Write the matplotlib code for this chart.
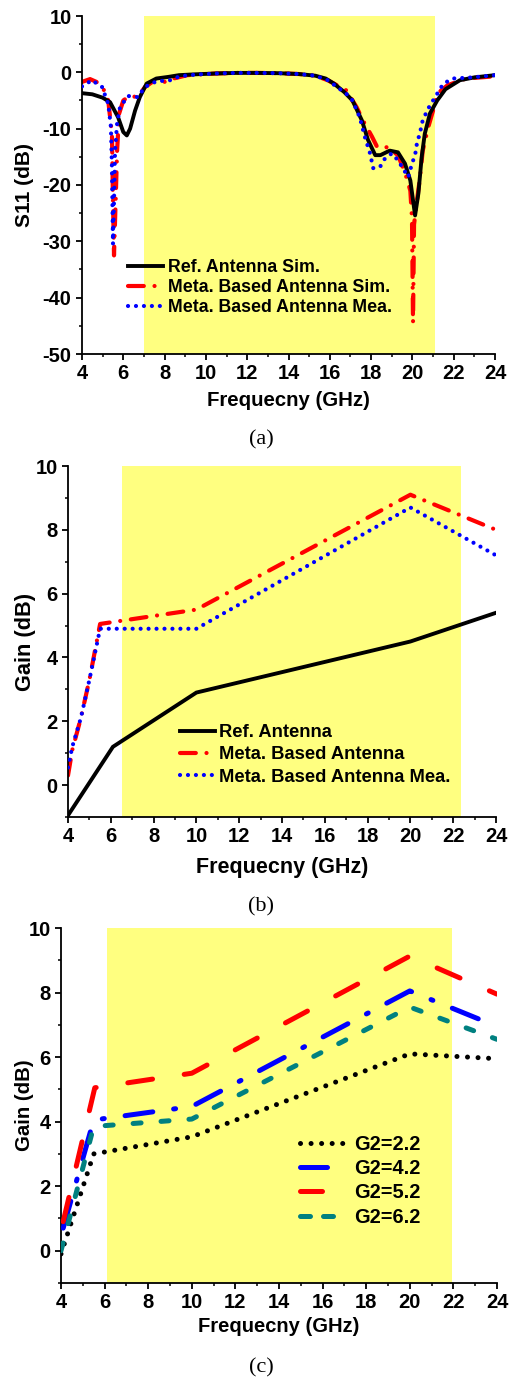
import matplotlib
matplotlib.use('Agg')
import matplotlib.pyplot as plt
import matplotlib.transforms as mtransforms
from matplotlib.ticker import MultipleLocator

plt.rcParams['font.family'] = ['Liberation Sans', 'DejaVu Sans']
plt.rcParams['font.weight'] = 'bold'
plt.rcParams['axes.unicode_minus'] = False

#%% data
# (a) S11 vs frequency
ref_sim_f = [4.0, 4.5, 5.0, 5.36, 5.75, 6.0, 6.17, 6.33, 6.57, 6.8, 7.13, 7.6, 8.2, 8.7,
             9.5, 10.5, 11.5, 12.5, 13.5, 14.5, 15.3, 15.8, 16.2, 16.7, 17.1, 17.55,
             17.85, 18.2, 18.45, 18.9, 19.3, 19.64, 19.9, 20.13, 20.29, 20.45, 20.6,
             20.85, 21.2, 21.6, 22.3, 23.0, 24.0]
ref_sim_s = [-3.7, -3.9, -4.5, -5.3, -8.0, -10.6, -11.2, -10.0, -6.8, -4.4, -2.0, -1.1, -0.8, -0.5,
             -0.35, -0.2, -0.1, -0.1, -0.15, -0.3, -0.6, -1.1, -2.0, -3.5, -5.0, -8.5,
             -12.0, -14.7, -14.7, -13.9, -14.2, -16.2, -19.2, -25.4, -21.5, -15.0, -10.9,
             -7.3, -5.0, -3.0, -1.4, -0.9, -0.5]

meta_sim_f = [4.0, 4.39, 4.7, 5.03, 5.27, 5.45, 5.5, 5.55, 5.63, 5.7, 5.8, 6.0, 6.3, 6.7,
              7.05, 7.45, 8.1, 8.43, 9.1, 10.5, 11.5, 12.5, 13.5, 14.5, 15.3, 15.9, 16.8,
              17.3, 17.6, 18.04, 18.3, 18.8, 19.3, 19.64, 19.9, 19.98, 20.03, 20.08, 20.22,
              20.37, 20.5, 20.77, 21.0, 21.2, 21.7, 22.6, 24.0]
meta_sim_s = [-1.7, -1.2, -1.7, -2.9, -5.0, -10.9, -22.8, -32.5, -22.8, -13.9, -7.3, -5.0, -4.2, -4.4,
              -2.6, -1.6, -1.7, -1.1, -0.5, -0.2, -0.1, -0.1, -0.15, -0.3, -0.6, -1.4, -3.2,
              -6.2, -8.5, -11.4, -13.3, -13.3, -14.7, -17.8, -21.0, -26.0, -44.5, -27.0, -22.8,
              -18.6, -13.9, -9.7, -6.8, -3.8, -2.3, -1.1, -0.7]

meta_mea_f = [4.0, 4.48, 4.97, 5.27, 5.4, 5.45, 5.5, 5.55, 5.6, 5.7, 5.84, 6.23, 6.7, 7.05,
              7.6, 8.26, 8.74, 9.5, 10.5, 11.5, 12.5, 13.5, 14.5, 15.3, 15.9, 16.8, 17.1,
              17.45, 17.7, 17.95, 18.1, 18.43, 18.67, 19.0, 19.3, 19.55, 19.8, 19.98, 20.13,
              20.22, 20.37, 20.5, 20.77, 21.0, 21.5, 21.97, 22.9, 24.0]
meta_mea_s = [-2.5, -1.4, -2.6, -5.6, -9.7, -16.8, -30.5, -22.8, -13.9, -9.1, -6.2, -4.2, -4.4, -2.6,
              -1.6, -1.4, -0.7, -0.4, -0.2, -0.1, -0.1, -0.15, -0.3, -0.6, -1.4, -3.8, -5.0,
              -8.0, -11.5, -14.4, -17.0, -16.8, -15.3, -14.4, -15.6, -17.1, -18.6, -16.2, -14.7,
              -12.6, -10.7, -8.5, -6.4, -5.0, -2.0, -1.1, -0.9, -0.5]

# (b) gain vs frequency
gain_ref_f = [4.0, 6.1, 10.0, 20.0, 24.0]
gain_ref = [-0.95, 1.2, 2.9, 4.5, 5.4]
gain_meta_f = [4.0, 4.2, 4.6, 5.0, 5.5, 10.0, 20.0, 24.0]
gain_meta_sim = [0.3, 1.1, 2.1, 3.3, 5.05, 5.5, 9.1, 8.0]
gain_meta_mea = [0.55, 1.2, 2.1, 3.3, 4.9, 4.9, 8.7, 7.2]

# (c) gain for different G2
g2_f = [4.0, 5.5, 10.0, 20.0, 24.0]
g2_labels = ['G2=2.2', 'G2=4.2', 'G2=5.2', 'G2=6.2']
g2_22 = [-0.1, 3.0, 3.53, 6.1, 5.95]
g2_42_f = [4.1, 5.5, 10.0, 20.0, 24.0]
g2_42 = [0.7, 4.05, 4.47, 8.05, 6.95]
g2_52_f = [4.1, 5.55, 10.0, 20.0, 24.0]
g2_52 = [0.9, 5.05, 5.5, 9.13, 7.95]
g2_62 = [0.0, 3.85, 4.08, 7.55, 6.55]

# shaded bands (GHz)
band_a = (7.0, 21.1)
band_b = (6.5, 22.35)
band_c = (6.1, 21.95)

#%% figure
W, H = 519, 1380
fig = plt.figure(figsize=(W / 100, H / 100), dpi=100)

YELLOW = '#ffff80'
RED = '#ff0000'
BLUE = '#0000ff'
TEAL = '#008080'


def px_axes(left, top, right, bottom):
    return fig.add_axes([left / W, 1 - bottom / H, (right - left) / W, (bottom - top) / H])


def style_axes(ax, ylim, ymaj, ymin, ylabel, xlab_y, tick_fs, xlab_fs, ylab_fs):
    ax.set_xlim(4, 24)
    ax.set_ylim(*ylim)
    ax.xaxis.set_major_locator(MultipleLocator(2))
    ax.xaxis.set_minor_locator(MultipleLocator(1))
    ax.yaxis.set_major_locator(MultipleLocator(ymaj))
    ax.yaxis.set_minor_locator(MultipleLocator(ymin))
    for s in ['top', 'right']:
        ax.spines[s].set_visible(False)
    for s in ['left', 'bottom']:
        ax.spines[s].set_linewidth(1.3)
    ax.tick_params(which='major', direction='out', length=4.5, width=1.3, pad=3, labelsize=tick_fs)
    ax.tick_params(which='minor', direction='out', length=2.5, width=1.1)
    ax.set_xlabel('Frequecny (GHz)', fontsize=xlab_fs, fontweight='bold', va='center')
    ax.xaxis.set_label_coords(0.5, 1 - xlab_y / H,
                              transform=mtransforms.blended_transform_factory(ax.transAxes, fig.transFigure))
    ax.set_ylabel(ylabel, fontsize=ylab_fs, fontweight='bold', va='center')
    ax.yaxis.set_label_coords(25 / W, 0.5,
                              transform=mtransforms.blended_transform_factory(fig.transFigure, ax.transAxes))


#%% (a)
ax1 = px_axes(82, 16, 495, 354)
ax1.axvspan(*band_a, color=YELLOW, lw=0, zorder=0)
ax1.plot(meta_sim_f, meta_sim_s, color=RED, lw=3, ls=(0, (3.8, 2.56, 0.01, 2.56)),
         dash_capstyle='round', label='Meta. Based Antenna Sim.', zorder=2)
ax1.plot(ref_sim_f, ref_sim_s, color='k', lw=2.8, solid_joinstyle='round',
         label='Ref. Antenna Sim.', zorder=3)
ax1.plot(meta_mea_f, meta_mea_s, color=BLUE, lw=3, ls=(0, (0.01, 1.9)),
         dash_capstyle='round', label='Meta. Based Antenna Mea.', zorder=4)
style_axes(ax1, (-50, 10), 10, 5, 'S11 (dB)', 401, 14.5, 14.7, 15)
h, l = ax1.get_legend_handles_labels()
order = [1, 0, 2]
ax1.legend([h[i] for i in order], [l[i] for i in order], loc='upper left',
           bbox_to_anchor=(0.111, 0.28), frameon=False, fontsize=12.8,
           handlelength=2.0, handletextpad=0.25, labelspacing=0.16,
           borderpad=0, borderaxespad=0)
fig.text(261 / W, 1 - 440 / H, '(a)', family='Liberation Serif', fontweight='normal',
         fontsize=16, ha='center', va='center')

#%% (b)
ax2 = px_axes(68, 466, 496, 817)
ax2.axvspan(*band_b, color=YELLOW, lw=0, zorder=0)
ax2.plot(gain_ref_f, gain_ref, color='k', lw=2.8, solid_joinstyle='miter',
         label='Ref. Antenna', zorder=3)
ax2.plot(gain_meta_f, gain_meta_sim, color=RED, lw=3, ls=(0, (3.8, 2.56, 0.01, 2.56)),
         dash_capstyle='round', label='Meta. Based Antenna', zorder=2)
ax2.plot(gain_meta_f, gain_meta_mea, color=BLUE, lw=3, ls=(0, (0.01, 1.9)),
         dash_capstyle='round', label='Meta. Based Antenna Mea.', zorder=4)
style_axes(ax2, (-1, 10), 2, 1, 'Gain (dB)', 868, 14.5, 15.5, 15.7)
ax2.legend(loc='upper left', bbox_to_anchor=(0.2617, 0.264), frameon=False, fontsize=13.2,
           handlelength=1.9, handletextpad=0.25, labelspacing=0.28,
           borderpad=0, borderaxespad=0)
fig.text(261 / W, 1 - 907 / H, '(b)', family='Liberation Serif', fontweight='normal',
         fontsize=16, ha='center', va='center')

#%% (c)
ax3 = px_axes(61, 928, 497, 1283)
ax3.axvspan(*band_c, color=YELLOW, lw=0, zorder=0)
lw_c = 3.6
l22, = ax3.plot(g2_f, g2_22, color='k', lw=lw_c, ls=(0, (0.01, 2.1)), dash_capstyle='round', zorder=2)
l42, = ax3.plot(g2_42_f, g2_42, color=BLUE, lw=lw_c, ls=(0, (5.6, 4.2, 0.4, 4.2)),
                dash_capstyle='round', zorder=3)
l52, = ax3.plot(g2_52_f, g2_52, color=RED, lw=lw_c, ls=(0, (5.0, 6.4)), dash_capstyle='round', zorder=3)
l62, = ax3.plot(g2_f, g2_62, color=TEAL, lw=lw_c, ls=(0, (1.6, 4.0)), dash_capstyle='round', zorder=4)
style_axes(ax3, (-1, 10), 2, 1, 'Gain (dB)', 1327, 14.5, 14.5, 14.7)
# legend handles in the original use slightly different dash lengths
leg_handles = [
    plt.Line2D([], [], color='k', lw=lw_c, ls=(0, (0.01, 2.1)), dash_capstyle='round'),
    plt.Line2D([], [], color=BLUE, lw=lw_c, ls=(0, (5.4, 4.2, 0.4, 4.2)), dash_capstyle='round'),
    plt.Line2D([], [], color=RED, lw=lw_c, ls=(0, (4.4, 6.4)), dash_capstyle='round'),
    plt.Line2D([], [], color=TEAL, lw=lw_c, ls=(0, (2.0, 2.6)), dash_capstyle='round'),
]
ax3.legend(leg_handles, g2_labels, loc='upper left', bbox_to_anchor=(0.548, 0.418),
           frameon=False, fontsize=14.4, handlelength=2.2, handletextpad=0.5,
           labelspacing=0.27, borderpad=0, borderaxespad=0)
fig.text(261 / W, 1 - 1368 / H, '(c)', family='Liberation Serif', fontweight='normal',
         fontsize=16, ha='center', va='center')

fig.savefig('out.png', dpi=100)
